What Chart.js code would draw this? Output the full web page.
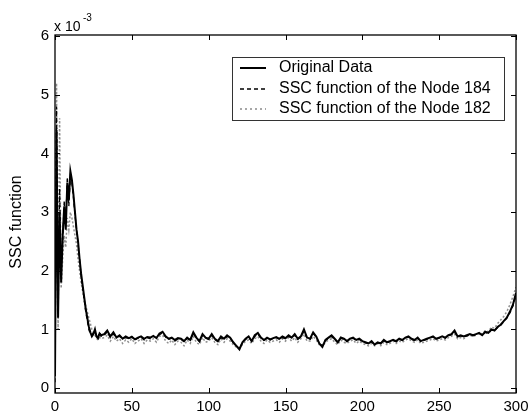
<!DOCTYPE html>
<html>
<head>
<meta charset="utf-8">
<script src="https://cdn.jsdelivr.net/npm/chart.js@4"></script>
<style>
html,body{margin:0;padding:0;background:#fff;}
#wrap{width:531px;height:413px;position:relative;}
</style>
</head>
<body>
<div id="wrap"><canvas id="c" width="531" height="413"></canvas></div>
<script>
// x positions (samples)
const xEarly = [0,1,2,3,4,5,6,7,8,9,10,11,12,13,14,15,16,17,18,19,20,21,22,23,24,25,26,27,28,29,30];
const xLate = [32,34,36,38,40,42,44,46,48,50,52,54,56,58,60,62,64,66,68,70,72,74,76,78,80,82,84,86,88,90,92,94,96,98,100,
102,104,106,108,110,112,114,116,118,120,122,124,126,128,130,132,134,136,138,140,142,144,146,148,150,152,154,156,158,160,162,164,166,168,170,172,174,176,178,180,182,184,186,188,190,192,194,196,198,200,
202,204,206,208,210,212,214,216,218,220,222,224,226,228,230,232,234,236,238,240,242,244,246,248,250,252,254,256,258,260,262,264,266,268,270,272,274,276,278,280,282,284,286,288,290,292,294,296,298,300];
const xValues = xEarly.concat(xLate);

// values in units of 1e-3
const originalData = [0.2,4.4,1.2,3.0,1.8,2.6,3.1,2.7,3.5,3.2,3.7,3.55,3.3,3.0,2.7,2.5,2.2,1.95,1.75,1.55,1.35,1.2,1.05,0.95,0.88,0.92,1.0,0.88,0.85,0.93,0.9,
0.92,0.98,0.88,0.95,0.86,0.90,0.84,0.88,0.85,0.87,0.83,0.86,0.88,0.84,0.87,0.86,0.89,0.85,0.93,0.96,0.88,0.84,0.86,0.82,0.85,0.84,0.80,0.86,0.82,0.95,0.86,0.80,0.92,0.86,0.84,
0.92,0.84,0.80,0.88,0.84,0.90,0.86,0.78,0.72,0.66,0.78,0.84,0.88,0.80,0.90,0.94,0.86,0.82,0.86,0.83,0.85,0.87,0.84,0.88,0.85,0.90,0.86,0.92,0.84,0.88,1.00,0.86,0.84,0.95,0.88,0.76,0.70,0.82,0.86,0.90,0.84,0.78,0.86,0.84,0.80,0.84,0.86,0.82,0.84,0.80,
0.78,0.76,0.80,0.74,0.78,0.76,0.82,0.78,0.80,0.82,0.80,0.84,0.82,0.86,0.88,0.84,0.82,0.86,0.80,0.82,0.84,0.86,0.88,0.84,0.86,0.88,0.86,0.90,0.92,0.98,0.88,0.90,0.88,0.90,0.92,0.90,0.92,0.94,0.90,0.96,0.94,1.00,0.98,1.04,1.08,1.14,1.20,1.30,1.42,1.62];

const node184 = [0.1,4.8,1.5,3.4,2.0,2.5,3.2,2.8,3.6,3.1,3.6,3.5,3.25,2.95,2.7,2.45,2.2,1.9,1.7,1.5,1.3,1.15,1.0,0.92,0.9,0.95,0.98,0.86,0.88,0.95,0.88,
0.90,0.96,0.86,0.92,0.87,0.88,0.85,0.86,0.84,0.88,0.82,0.85,0.87,0.82,0.86,0.84,0.88,0.86,0.91,0.94,0.87,0.83,0.85,0.80,0.84,0.83,0.79,0.85,0.81,0.93,0.85,0.79,0.90,0.85,0.83,
0.90,0.83,0.79,0.86,0.83,0.88,0.85,0.77,0.72,0.68,0.77,0.83,0.86,0.80,0.88,0.92,0.85,0.81,0.85,0.82,0.84,0.86,0.83,0.86,0.84,0.88,0.85,0.90,0.83,0.87,0.97,0.85,0.83,0.93,0.87,0.76,0.72,0.81,0.85,0.88,0.83,0.78,0.85,0.83,0.79,0.83,0.85,0.81,0.83,0.79,
0.77,0.76,0.79,0.74,0.77,0.76,0.81,0.77,0.79,0.81,0.79,0.83,0.81,0.85,0.87,0.83,0.81,0.85,0.80,0.81,0.83,0.85,0.87,0.83,0.85,0.87,0.85,0.89,0.91,0.96,0.87,0.89,0.87,0.89,0.91,0.89,0.91,0.93,0.90,0.95,0.93,0.99,0.98,1.03,1.07,1.13,1.19,1.28,1.40,1.58];

const node182 = [0.3,5.2,1.0,4.6,1.7,2.2,2.6,2.4,2.9,2.7,3.0,2.9,2.75,2.6,2.45,2.2,2.0,1.8,1.65,1.5,1.4,1.3,1.2,1.1,1.0,0.95,0.9,0.85,0.82,0.86,0.84,
0.86,0.90,0.80,0.88,0.80,0.84,0.76,0.82,0.78,0.84,0.76,0.80,0.84,0.76,0.82,0.80,0.84,0.78,0.88,0.90,0.80,0.76,0.82,0.74,0.80,0.78,0.72,0.82,0.76,0.88,0.78,0.74,0.86,0.78,0.80,
0.86,0.78,0.74,0.84,0.78,0.84,0.80,0.74,0.70,0.68,0.74,0.80,0.82,0.76,0.84,0.88,0.80,0.76,0.82,0.78,0.80,0.82,0.78,0.84,0.80,0.86,0.80,0.86,0.78,0.84,0.92,0.80,0.80,0.88,0.82,0.74,0.70,0.78,0.82,0.84,0.78,0.74,0.82,0.78,0.76,0.80,0.82,0.76,0.80,0.76,
0.74,0.72,0.76,0.72,0.76,0.72,0.78,0.74,0.76,0.80,0.76,0.80,0.78,0.82,0.84,0.80,0.78,0.82,0.76,0.78,0.80,0.82,0.84,0.80,0.82,0.84,0.82,0.86,0.88,0.92,0.84,0.86,0.84,0.88,0.90,0.88,0.90,0.94,0.92,0.98,0.96,1.04,1.02,1.10,1.16,1.22,1.30,1.42,1.56,1.72];

const xTicks = [0,50,100,150,200,250,300];
const yTicks = [0,1,2,3,4,5,6];
const seriesNames = ['Original Data','SSC function of the Node 184','SSC function of the Node 182'];

function pts(vals){ return xValues.map((x,i)=>({x:x,y:vals[i]})); }

const FONT = '"Liberation Sans", Arial, sans-serif';

const matlabAxes = {
  id:'matlabAxes',
  afterDatasetsDraw(chart){
    const ctx = chart.ctx, a = chart.chartArea;
    const xs = chart.scales.x, ys = chart.scales.y;
    ctx.save();
    // frame
    ctx.strokeStyle = '#000'; ctx.lineWidth = 1.3;
    ctx.strokeRect(a.left, a.top, a.right - a.left, a.bottom - a.top);
    // ticks
    ctx.lineWidth = 1;
    const tl = 5;
    ctx.beginPath();
    xTicks.forEach(t=>{
      const p = Math.round(xs.getPixelForValue(t))+0.5;
      ctx.moveTo(p,a.bottom); ctx.lineTo(p,a.bottom-tl);
      ctx.moveTo(p,a.top); ctx.lineTo(p,a.top+tl);
    });
    yTicks.forEach(t=>{
      const p = Math.round(ys.getPixelForValue(t))+0.5;
      ctx.moveTo(a.left,p); ctx.lineTo(a.left+tl,p);
      ctx.moveTo(a.right,p); ctx.lineTo(a.right-tl,p);
    });
    ctx.stroke();
    // tick labels
    ctx.fillStyle = '#000';
    ctx.font = '15px ' + FONT;
    ctx.textAlign = 'center'; ctx.textBaseline = 'middle';
    xTicks.forEach(t=>{
      ctx.fillText(String(t), xs.getPixelForValue(t), a.bottom + 14);
    });
    ctx.textAlign = 'right';
    yTicks.forEach(t=>{
      ctx.fillText(String(t), a.left - 6, ys.getPixelForValue(t));
    });
    // multiplier
    ctx.textAlign = 'left'; ctx.textBaseline = 'alphabetic';
    ctx.font = '14px ' + FONT;
    ctx.fillText('x 10', a.left - 1, 31);
    ctx.font = '10px ' + FONT;
    ctx.fillText('-3', a.left + 28, 21);
    // y axis title
    ctx.save();
    ctx.translate(17, (a.top + a.bottom)/2 + 8);
    ctx.rotate(-Math.PI/2);
    ctx.font = '16px ' + FONT;
    ctx.textAlign = 'center'; ctx.textBaseline = 'middle';
    ctx.fillText('SSC function', 0, 0);
    ctx.restore();
    // legend
    const L = 232, T = 57, R = 504, B = 120;
    ctx.fillStyle = '#fff';
    ctx.fillRect(L, T, R-L, B-T);
    ctx.strokeStyle = '#333'; ctx.lineWidth = 1;
    ctx.strokeRect(L+0.5, T+0.5, R-L, B-T);
    const rows = [68, 89, 109];
    const styles = [
      {c:'#000', w:2, d:[]},
      {c:'#000', w:1.6, d:[4,3]},
      {c:'#8a8a8a', w:1.6, d:[2,3]}
    ];
    ctx.font = '16px ' + FONT;
    ctx.textAlign = 'left'; ctx.textBaseline = 'middle';
    rows.forEach((y,i)=>{
      ctx.beginPath();
      ctx.strokeStyle = styles[i].c; ctx.lineWidth = styles[i].w;
      ctx.setLineDash(styles[i].d);
      ctx.moveTo(240, y); ctx.lineTo(266, y);
      ctx.stroke();
      ctx.setLineDash([]);
      ctx.fillStyle = '#000';
      ctx.fillText(seriesNames[i], 279, y);
    });
    ctx.restore();
  }
};

new Chart(document.getElementById('c'), {
  type:'line',
  data:{
    datasets:[
      {label:seriesNames[0], data:pts(originalData), borderColor:'#000', borderWidth:2, pointRadius:0, order:1, tension:0},
      {label:seriesNames[1], data:pts(node184), borderColor:'#000', borderWidth:1.3, borderDash:[4,3], pointRadius:0, order:2, tension:0},
      {label:seriesNames[2], data:pts(node182), borderColor:'#8f8f8f', borderWidth:1.5, borderDash:[2,2], pointRadius:0, order:3, tension:0}
    ]
  },
  options:{
    responsive:false,
    animation:false,
    layout:{padding:{left:55, top:35, right:15, bottom:20}},
    plugins:{legend:{display:false}, tooltip:{enabled:false}},
    scales:{
      x:{type:'linear', min:0, max:300, display:false},
      y:{type:'linear', min:-0.085, max:6.02, display:false}
    }
  },
  plugins:[matlabAxes]
});
</script>
</body>
</html>
